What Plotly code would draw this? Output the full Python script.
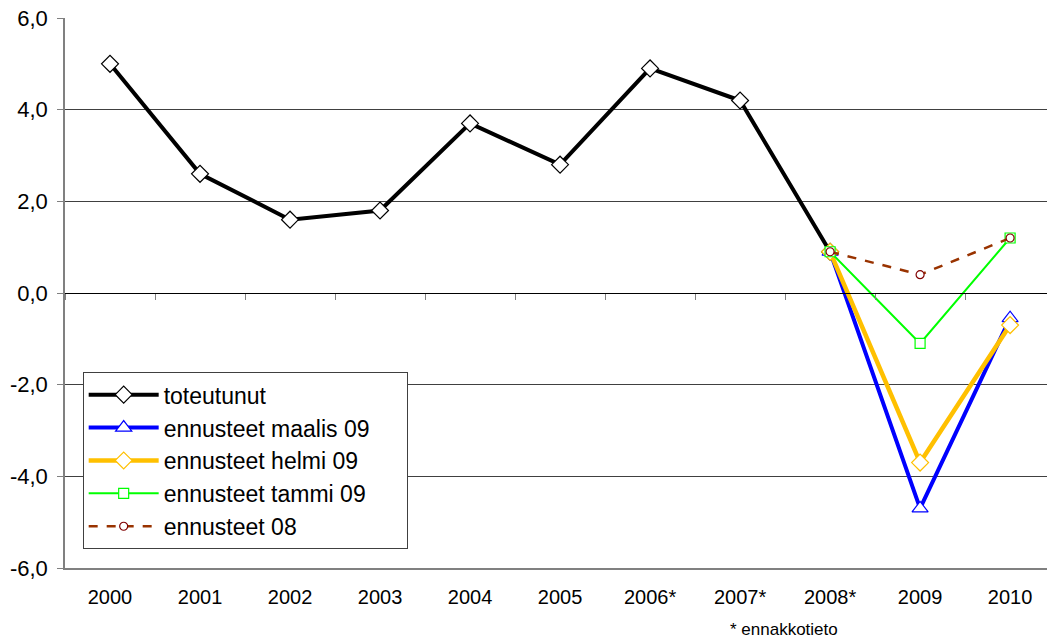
import plotly.graph_objects as go

years = ["2000", "2001", "2002", "2003", "2004", "2005", "2006*", "2007*", "2008*", "2009", "2010"]
toteutunut = [5.0, 2.6, 1.6, 1.8, 3.7, 2.8, 4.9, 4.2, 0.9, None, None]
maalis09 = [None, None, None, None, None, None, None, None, 0.9, -4.7, -0.55]
helmi09 = [None, None, None, None, None, None, None, None, 0.9, -3.7, -0.7]
tammi09 = [None, None, None, None, None, None, None, None, 0.9, -1.1, 1.2]
ennusteet08 = [None, None, None, None, None, None, None, None, 0.9, 0.4, 1.2]
y_ticks = [-6, -4, -2, 0, 2, 4, 6]
y_ticktext = ["-6,0", "-4,0", "-2,0", "0,0", "2,0", "4,0", "6,0"]

pad = "\u00a0" * 5

fig = go.Figure()
fig.add_trace(go.Scatter(x=years, y=toteutunut, name="toteutunut", mode="lines+markers",
                         line=dict(color="black", width=4),
                         marker=dict(symbol="diamond", size=13, color="white", line=dict(color="black", width=1.2))))
fig.add_trace(go.Scatter(x=years, y=maalis09, name="ennusteet maalis 09" + pad, mode="lines+markers",
                         line=dict(color="#0000FF", width=4),
                         marker=dict(symbol="triangle-up", size=14, color="white", line=dict(color="#0000FF", width=1.2))))
fig.add_trace(go.Scatter(x=years, y=helmi09, name="ennusteet helmi 09", mode="lines+markers",
                         line=dict(color="#FFC000", width=4.5),
                         marker=dict(symbol="diamond", size=13, color="white", line=dict(color="#FFC000", width=1.2))))
fig.add_trace(go.Scatter(x=years, y=tammi09, name="ennusteet tammi 09", mode="lines+markers",
                         line=dict(color="#00FF00", width=2),
                         marker=dict(symbol="square", size=10, color="white", line=dict(color="#00FF00", width=1.2))))
fig.add_trace(go.Scatter(x=years, y=ennusteet08, name="ennusteet 08", mode="lines+markers",
                         line=dict(color="#993300", width=2.5, dash="dash"),
                         marker=dict(symbol="circle", size=8, color="white", line=dict(color="#800000", width=1.2))))

# invisible helper trace for the zero-line tick axis
fig.add_trace(go.Scatter(x=years, y=[0] * len(years), xaxis="x2", mode="lines",
                         line=dict(width=0), showlegend=False, hoverinfo="skip"))

fig.update_layout(
    width=1047, height=641,
    margin=dict(l=65, r=0, t=18, b=73),
    paper_bgcolor="white", plot_bgcolor="white",
    font=dict(family="Liberation Sans, Arial, sans-serif", size=20, color="black"),
    xaxis=dict(type="category", categoryorder="array", categoryarray=years,
               range=[-0.5, 10.41], showgrid=False, showline=True, linecolor="#808080",
               linewidth=1.5, ticks="", tickfont=dict(size=20), zeroline=False,
               automargin=False, ticklabelstandoff=10, ticklabeloverflow="allow"),
    xaxis2=dict(type="category", categoryorder="array", categoryarray=years,
                range=[-0.5, 10.41], overlaying="x", anchor="free", position=0.5,
                showgrid=False, showline=True, linecolor="black", linewidth=1,
                ticks="outside", tickson="boundaries", ticklen=6, tickcolor="#808080",
                showticklabels=False, zeroline=False, automargin=False),
    yaxis=dict(range=[-6, 6], tickvals=y_ticks, ticktext=y_ticktext, showgrid=True,
               gridcolor="#404040", gridwidth=1, showline=True, linecolor="#808080",
               linewidth=1.5, ticks="outside", ticklen=6, tickcolor="#808080",
               zeroline=False, tickfont=dict(size=22), automargin=False,
               ticklabelstandoff=5, ticklabeloverflow="allow"),
    legend=dict(x=0.018, y=0.356, xanchor="left", yanchor="top",
                bgcolor="white", bordercolor="#404040", borderwidth=1,
                font=dict(size=23), tracegroupgap=0, itemwidth=70),
    annotations=[dict(text="* ennakkotieto", x=0.732, y=-0.1127, xref="paper", yref="paper",
                      xanchor="center", yanchor="middle", showarrow=False, font=dict(size=17))],
)

fig.write_html("out.html", config={"displayModeBar": False},
               post_script="document.body.style.margin='0';document.body.style.overflow='hidden';")
